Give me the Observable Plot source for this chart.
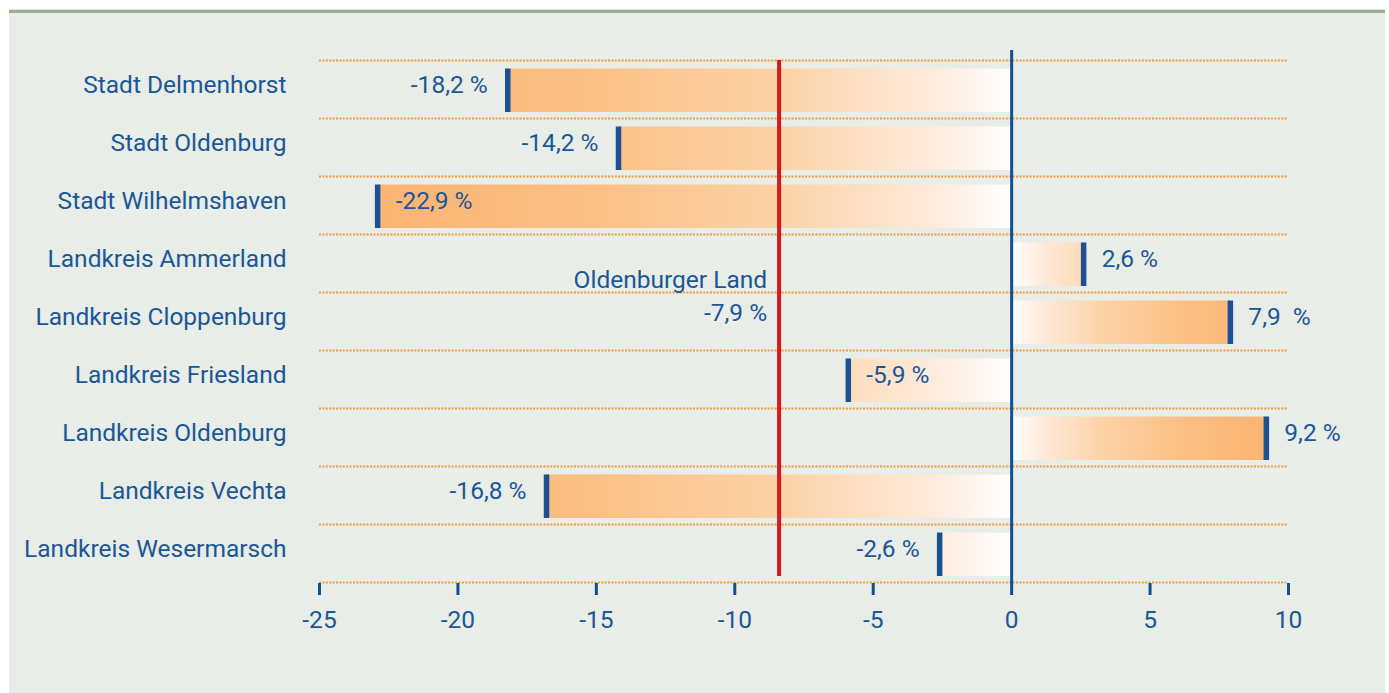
<!DOCTYPE html>
<html>
<head>
<meta charset="utf-8">
<script src="https://cdn.jsdelivr.net/npm/d3@7"></script>
<script src="https://cdn.jsdelivr.net/npm/@observablehq/plot@0.6"></script>
<style>
  html, body { margin: 0; padding: 0; background: #ffffff; }
  #wrap { position: relative; width: 1389px; height: 693px; overflow: hidden; }
  #panel { position: absolute; left: 9px; top: 10px; width: 1376px; height: 690px;
           background: #e8ede7; border-top: 3px solid #9eab93; box-shadow: 0 -1px 0 #dfe3dc; }
  #chart { position: absolute; left: 0; top: 0; }
</style>
</head>
<body>
<div id="wrap"><div id="panel"></div><div id="chart"></div></div>
<script>
// ---- data ----
const categories = [
  "Stadt Delmenhorst",
  "Stadt Oldenburg",
  "Stadt Wilhelmshaven",
  "Landkreis Ammerland",
  "Landkreis Cloppenburg",
  "Landkreis Friesland",
  "Landkreis Oldenburg",
  "Landkreis Vechta",
  "Landkreis Wesermarsch"
];
const values = [-18.2, -14.2, -22.9, 2.6, 7.9, -5.9, 9.2, -16.8, -2.6];
const valueLabels = ["-18,2 %", "-14,2 %", "-22,9 %", "2,6 %", "7,9\u00a0 %", "-5,9 %", "9,2 %", "-16,8 %", "-2,6 %"];
const labelInsideBar = ["Stadt Wilhelmshaven", "Landkreis Friesland"];
const xTicks = [-25, -20, -15, -10, -5, 0, 5, 10];
const xTickLabels = ["-25", "-20", "-15", "-10", "-5", "0", "5", "10"];
const referenceValue = -8.4;          // position of the red line as drawn
const referenceLabel = ["Oldenburger Land", "-7,9 %"];

// ---- chart ----
const W = 1389, H = 693;
const mTop = 59, mBottom = 110, mLeft = 319, mRight = 101;
const bw = (H - mTop - mBottom) / categories.length;
const blue = "#1b5796";
const data = categories.map((name, i) => ({name, value: values[i], label: valueLabels[i]}));
const dotted = {stroke: "#f39a3b", strokeWidth: 2, strokeDasharray: "2,1.4"};
const font = 24.5;
const leftSide = d => d.value < 0 && !labelInsideBar.includes(d.name);

const plot = Plot.plot({
  width: W, height: H,
  marginTop: mTop, marginBottom: mBottom, marginLeft: mLeft, marginRight: mRight,
  style: {background: "transparent", color: blue, fontFamily: "Roboto, sans-serif", overflow: "visible"},
  x: {domain: [-25, 10], label: null},
  y: {domain: categories, padding: 0, label: null},
  marks: [
    Plot.ruleY(categories, {y: d => d, dy: -bw / 2, ...dotted}),
    Plot.ruleY(categories.slice(-1), {y: d => d, dy: bw / 2, ...dotted}),
    Plot.barX(data.filter(d => d.value < 0), {x1: d => 0, x2: "value", y: "name", fill: "url(#gradNeg)", insetTop: 8.5, insetBottom: 6}),
    Plot.barX(data.filter(d => d.value >= 0), {x1: d => 0, x2: "value", y: "name", fill: "url(#gradPos)", insetTop: 8.5, insetBottom: 6}),
    Plot.tickX(data, {x: "value", y: "name", stroke: "#1d5195", strokeWidth: 5.5, insetTop: 8.5, insetBottom: 6}),
    Plot.ruleX([0], {stroke: "#0f4f96", strokeWidth: 3, insetTop: -9}),
    Plot.ruleX([referenceValue], {stroke: "#d7191f", strokeWidth: 4, insetTop: 1, insetBottom: 7}),
    Plot.text(data.filter(leftSide), {x: "value", y: "name", text: "label", textAnchor: "end", dx: -20, dy: -4, fontSize: font, fill: blue}),
    Plot.text(data.filter(d => !leftSide(d)), {x: "value", y: "name", text: "label", textAnchor: "start", dx: 18, dy: -4, fontSize: font, fill: blue}),
    Plot.text([{name: "Landkreis Cloppenburg", text: referenceLabel.join("\n")}], {x: d => referenceValue, y: "name", text: "text", textAnchor: "end", lineAnchor: "middle", lineHeight: 1.35, dx: -12, dy: -bw / 2 + 1.5, fontSize: font, fill: blue}),
    Plot.axisY({tickSize: 0, tickPadding: 33, fontSize: font, dy: -4.5, fill: blue}),
    Plot.axisX({ticks: xTicks, tickFormat: d => xTickLabels[xTicks.indexOf(d)], tickSize: 12, tickPadding: 15, fontSize: font, stroke: "#0f4f8f", strokeWidth: 3, fill: blue})
  ]
});

// gradients in user space: white at 0, full orange at each side's extreme value
const xs = plot.scale("x");
const stops = [[0, "#ffffff"], [0.12, "#feebdc"], [0.35, "#fcd3a8"], [0.65, "#fbc085"], [1, "#fbb472"]];
const defs = d3.select(plot).insert("defs", ":first-child");
[["gradNeg", d3.min(values)], ["gradPos", d3.max(values)]].forEach(([id, ext]) => {
  const g = defs.append("linearGradient").attr("id", id).attr("gradientUnits", "userSpaceOnUse")
    .attr("x1", xs.apply(0)).attr("x2", xs.apply(ext)).attr("y1", 0).attr("y2", 0);
  stops.forEach(([o, c]) => g.append("stop").attr("offset", o).attr("stop-color", c));
});

document.getElementById("chart").appendChild(plot);
</script>
</body>
</html>
